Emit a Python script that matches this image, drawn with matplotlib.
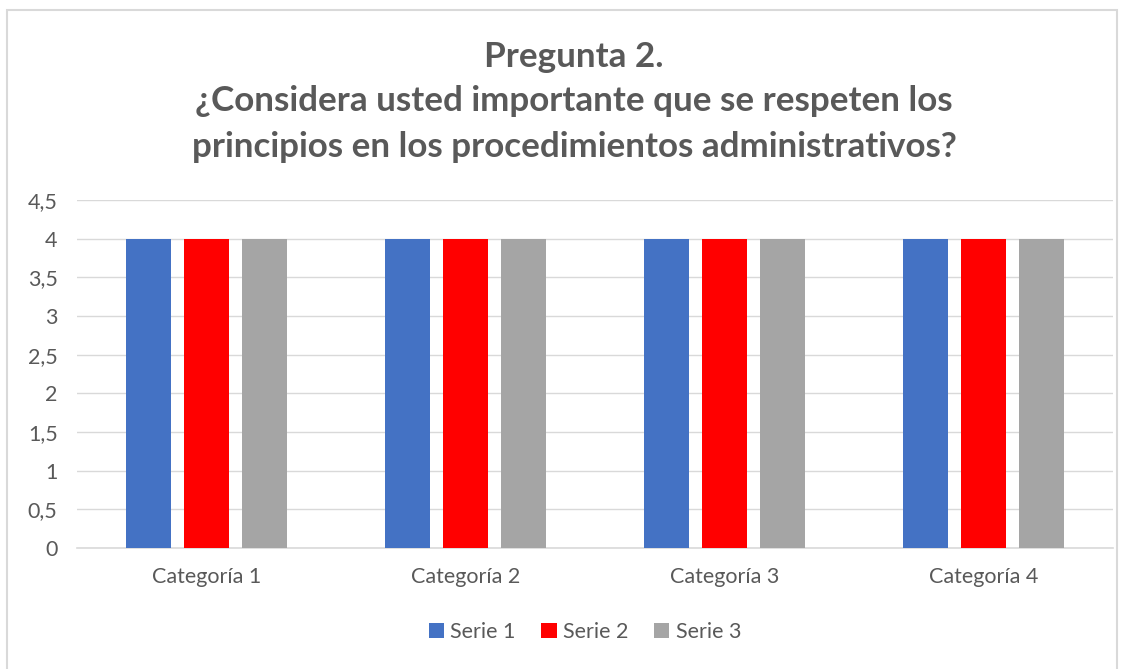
import numpy as np
import matplotlib
matplotlib.use("Agg")
import matplotlib.pyplot as plt
from matplotlib.patches import Rectangle

# data
categories = ["Categoría 1", "Categoría 2", "Categoría 3", "Categoría 4"]
series_names = ["Serie 1", "Serie 2", "Serie 3"]
serie1 = [4, 4, 4, 4]
serie2 = [4, 4, 4, 4]
serie3 = [4, 4, 4, 4]
y_ticks = [0, 0.5, 1, 1.5, 2, 2.5, 3, 3.5, 4, 4.5]
title_lines = ["Pregunta 2.",
               "¿Considera usted importante que se respeten los",
               "principios en los procedimientos administrativos?"]

colors = ["#4472C4", "#FF0000", "#A5A5A5"]
text_col = "#595959"
grid_col = "#D9D9D9"

plt.rcParams['font.family'] = ['Lato', 'DejaVu Sans']

W, H = 1129, 669
fig = plt.figure(figsize=(W / 100, H / 100), dpi=100)

# chart border
fig.patches.append(Rectangle((7 / W, 1 - 700 / H), 1110 / W, 690 / H,
                             transform=fig.transFigure, fill=False,
                             edgecolor=grid_col, linewidth=1.5))

ax = fig.add_axes([77 / W, 1 - 548 / H, (1113 - 77) / W, (548 - 200) / H])

x = np.arange(len(categories))
width = 0.174
step = 0.224
for i, (vals, name) in enumerate(zip([serie1, serie2, serie3], series_names)):
    ax.bar(x + (i - 1) * step, vals, width, color=colors[i], label=name, zorder=3)

ax.set_xlim(-0.5, len(categories) - 0.5)
ax.set_ylim(0, 4.5)
ax.set_yticks(y_ticks)
ax.set_yticklabels([("%g" % v).replace(".", ",") for v in y_ticks])
ax.set_xticks(x)
ax.set_xticklabels(categories)
ax.tick_params(axis='both', length=0, colors=text_col, labelsize=15.5)
ax.tick_params(axis='x', pad=14)
ax.tick_params(axis='y', pad=14)
ax.yaxis.grid(True, color=grid_col, linewidth=1, zorder=0)
for s in ['top', 'right', 'left']:
    ax.spines[s].set_visible(False)
ax.spines['bottom'].set_color(grid_col)
ax.spines['bottom'].set_linewidth(1.2)

# title
for line, ypx in zip(title_lines, [57, 101, 147]):
    fig.text(574 / W, 1 - ypx / H, line, ha='center', va='center',
             fontsize=25.2, fontweight='bold', color=text_col)

leg = fig.legend(loc='center', bbox_to_anchor=(585 / W, 1 - 632 / H), ncol=3,
                 frameon=False, fontsize=15.5, handlelength=0.7, handleheight=0.7,
                 handletextpad=0.3, columnspacing=1.2, labelcolor=text_col)

fig.savefig("out.png", dpi=100, facecolor="white")
